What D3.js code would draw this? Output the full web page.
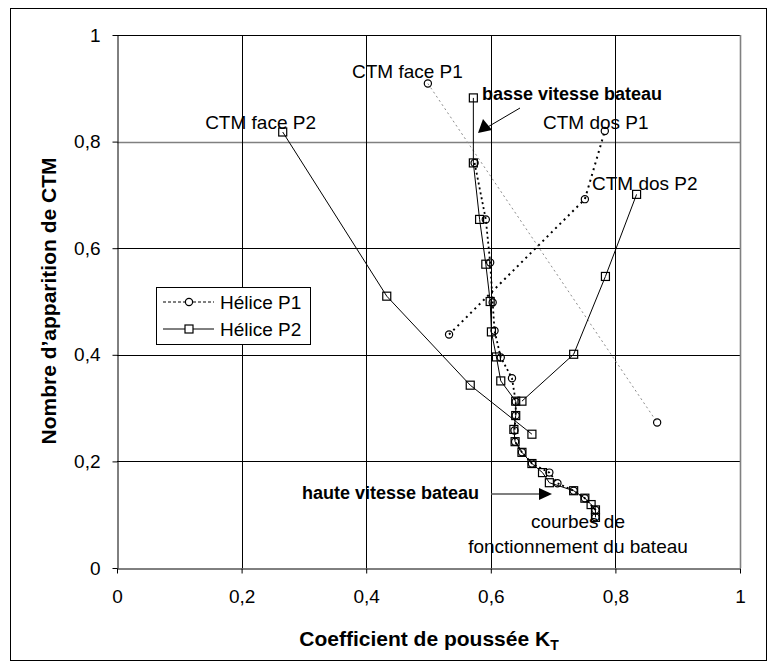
<!DOCTYPE html>
<html>
<head>
<meta charset="utf-8">
<script src="https://cdn.jsdelivr.net/npm/d3@7"></script>
<style>
  body { margin: 0; background: #fff; }
  svg { font-family: "Liberation Sans", Arial, sans-serif; }
</style>
</head>
<body>
<script>
// axis ticks
var xTicks = [0, 0.2, 0.4, 0.6, 0.8, 1];
var xTickLabels = ["0", "0,2", "0,4", "0,6", "0,8", "1"];
var yTicks = [0, 0.2, 0.4, 0.6, 0.8, 1];
var yTickLabels = ["0", "0,2", "0,4", "0,6", "0,8", "1"];

// Hélice P1 - operating curve
var p1Kt  = [0.574, 0.592, 0.599, 0.603, 0.606, 0.616, 0.634, 0.640, 0.640, 0.638, 0.639, 0.650, 0.666, 0.694, 0.707, 0.733, 0.751, 0.768, 0.768];
var p1Ctm = [0.760, 0.654, 0.573, 0.498, 0.445, 0.395, 0.356, 0.312, 0.286, 0.258, 0.237, 0.217, 0.196, 0.179, 0.159, 0.145, 0.131, 0.109, 0.095];
// Hélice P1 - CTM face / dos
var p1FaceKt  = [0.499, 0.867];
var p1FaceCtm = [0.909, 0.273];
var p1DosKt  = [0.533, 0.751, 0.783];
var p1DosCtm = [0.438, 0.692, 0.820];

// Hélice P2 - operating curve
var p2Kt  = [0.572, 0.572, 0.582, 0.592, 0.599, 0.601, 0.609, 0.616, 0.640, 0.640, 0.637, 0.639, 0.650, 0.666, 0.683, 0.694, 0.733, 0.751, 0.761, 0.768, 0.768];
var p2Ctm = [0.882, 0.760, 0.654, 0.570, 0.500, 0.443, 0.396, 0.351, 0.313, 0.286, 0.260, 0.237, 0.217, 0.196, 0.179, 0.160, 0.145, 0.131, 0.119, 0.109, 0.095];
// Hélice P2 - CTM face / dos
var p2FaceKt  = [0.266, 0.433, 0.567, 0.666];
var p2FaceCtm = [0.818, 0.510, 0.343, 0.251];
var p2DosKt  = [0.650, 0.733, 0.784, 0.834];
var p2DosCtm = [0.313, 0.401, 0.547, 0.701];

var legendNames = ["Hélice P1", "Hélice P2"];

function pts(xs, ys) {
  return xs.map(function(d, i) { return [d, ys[i]]; });
}

var svg = d3.select("body")
  .append("svg")
  .attr("width", 770)
  .attr("height", 669);

svg.append("rect")
  .attr("x", 10.5).attr("y", 8.5)
  .attr("width", 756).attr("height", 652)
  .attr("fill", "#fff")
  .attr("stroke", "#000");

var x = d3.scaleLinear().domain([0, 1]).range([117, 740]);
var y = d3.scaleLinear().domain([0, 1]).range([568, 35]);

// gridlines
svg.append("g")
  .selectAll("line")
  .data(yTicks.slice(1))
  .enter()
  .append("line")
  .attr("x1", x(0)).attr("x2", x(1))
  .attr("y1", function(d) { return Math.round(y(d)) + 0.5; })
  .attr("y2", function(d) { return Math.round(y(d)) + 0.5; })
  .attr("stroke", function(d) { return d === 0.8 ? "#808080" : "#000"; })
  .attr("stroke-width", function(d) { return d === 0.8 ? 1.6 : 1; });

svg.append("g")
  .selectAll("line")
  .data(xTicks.slice(1))
  .enter()
  .append("line")
  .attr("y1", y(0)).attr("y2", y(1))
  .attr("x1", function(d) { return Math.round(x(d)) + 0.5; })
  .attr("x2", function(d) { return Math.round(x(d)) + 0.5; })
  .attr("stroke", function(d) { return d === 1 ? "#808080" : "#000"; })
  .attr("stroke-width", function(d) { return d === 1 ? 1.6 : 1; });

// axes
var xAxisCall = d3.axisBottom(x)
  .tickValues(xTicks)
  .tickFormat(function(d, i) { return xTickLabels[i]; })
  .tickSize(5)
  .tickSizeOuter(0)
  .tickPadding(16);

svg.append("g")
  .attr("class", "x axis")
  .attr("transform", "translate(0," + (Math.round(y(0)) + 0.5) + ")")
  .call(xAxisCall);

var yAxisCall = d3.axisLeft(y)
  .tickValues(yTicks)
  .tickFormat(function(d, i) { return yTickLabels[i]; })
  .tickSize(5)
  .tickSizeOuter(0)
  .tickPadding(12);

svg.append("g")
  .attr("class", "y axis")
  .attr("transform", "translate(" + (Math.round(x(0)) + 0.5) + ",0)")
  .call(yAxisCall);

svg.selectAll(".axis text")
  .attr("font-size", "19px")
  .attr("font-family", "Liberation Sans, Arial, sans-serif")
  .attr("fill", "#000");
svg.selectAll(".axis path, .axis line").attr("stroke", "#000");

// axis titles
var xTitle = svg.append("text")
  .attr("x", 429)
  .attr("y", 646)
  .attr("font-size", "21px")
  .attr("font-weight", "bold")
  .attr("text-anchor", "middle")
  .text("Coefficient de poussée K");
xTitle.append("tspan")
  .attr("font-size", "14px")
  .attr("dy", "4")
  .text("T");

svg.append("text")
  .attr("transform", "translate(56," + 301 + ") rotate(-90)")
  .attr("font-size", "21px")
  .attr("font-weight", "bold")
  .attr("text-anchor", "middle")
  .text("Nombre d\u2019apparition de CTM");

var line = d3.line()
  .x(function(d) { return x(d[0]); })
  .y(function(d) { return y(d[1]); });

// lines
svg.append("path").datum(pts(p1FaceKt, p1FaceCtm))
  .attr("d", line).attr("fill", "none")
  .attr("stroke", "#8c8c8c").attr("stroke-width", 1)
  .attr("stroke-dasharray", "2,3");
svg.append("path").datum(pts(p1DosKt, p1DosCtm))
  .attr("d", line).attr("fill", "none")
  .attr("stroke", "#000").attr("stroke-width", 2)
  .attr("stroke-dasharray", "2,4");
svg.append("path").datum(pts(p1Kt, p1Ctm))
  .attr("d", line).attr("fill", "none")
  .attr("stroke", "#000").attr("stroke-width", 1.8)
  .attr("stroke-dasharray", "2,3");

[pts(p2Kt, p2Ctm), pts(p2FaceKt, p2FaceCtm), pts(p2DosKt, p2DosCtm)].forEach(function(s) {
  svg.append("path").datum(s)
    .attr("d", line).attr("fill", "none")
    .attr("stroke", "#000").attr("stroke-width", 1);
});

// markers
var p1All = pts(p1Kt, p1Ctm).concat(pts(p1FaceKt, p1FaceCtm), pts(p1DosKt, p1DosCtm));
var p2All = pts(p2Kt, p2Ctm).concat(pts(p2FaceKt, p2FaceCtm), pts(p2DosKt, p2DosCtm));

svg.append("g").selectAll("rect")
  .data(p2All)
  .enter()
  .append("rect")
  .attr("x", function(d) { return x(d[0]) - 4; })
  .attr("y", function(d) { return y(d[1]) - 4; })
  .attr("width", 8).attr("height", 8)
  .attr("fill", "none").attr("stroke", "#000").attr("stroke-width", 1.2);

svg.append("g").selectAll("circle")
  .data(p1All)
  .enter()
  .append("circle")
  .attr("cx", function(d) { return x(d[0]); })
  .attr("cy", function(d) { return y(d[1]); })
  .attr("r", 3.6)
  .attr("fill", "none").attr("stroke", "#000").attr("stroke-width", 1.2);

// annotations
function label(tx, ty, txt, anchor, bold, size) {
  svg.append("text")
    .attr("x", tx).attr("y", ty)
    .attr("font-size", size + "px")
    .attr("font-weight", bold ? "bold" : "normal")
    .attr("text-anchor", anchor)
    .text(txt);
}
label(352, 78, "CTM face P1", "start", false, 19);
label(316, 129, "CTM face P2", "end", false, 19);
label(543, 129, "CTM dos P1", "start", false, 19);
label(592, 190, "CTM dos P2", "start", false, 19);
label(482, 100, "basse vitesse bateau", "start", true, 18);
label(479, 499, "haute vitesse bateau", "end", true, 18);
label(578, 528, "courbes de", "middle", false, 19);
label(578, 553, "fonctionnement du bateau", "middle", false, 19);

// arrows
svg.append("line")
  .attr("x1", 520).attr("y1", 108).attr("x2", 486).attr("y2", 128)
  .attr("stroke", "#000").attr("stroke-width", 1);
svg.append("path")
  .attr("d", "M478,133 L483,119 L492,130 Z")
  .attr("fill", "#000");

svg.append("line")
  .attr("x1", 491).attr("y1", 494).attr("x2", 541).attr("y2", 494)
  .attr("stroke", "#555").attr("stroke-width", 1.5);
svg.append("path")
  .attr("d", "M552,494 L539,488 L539,500 Z")
  .attr("fill", "#000");

// legend
var leg = svg.append("g");
leg.append("rect")
  .attr("x", 156.5).attr("y", 287.5)
  .attr("width", 154).attr("height", 57)
  .attr("fill", "#fff").attr("stroke", "#000");

legendNames.forEach(function(name, i) {
  var ly = 302 + i * 27;
  leg.append("line")
    .attr("x1", 163).attr("x2", 214).attr("y1", ly).attr("y2", ly)
    .attr("stroke", "#000").attr("stroke-width", 1)
    .attr("stroke-dasharray", i === 0 ? "3,2" : null);
  if (i === 0) {
    leg.append("circle").attr("cx", 189).attr("cy", ly).attr("r", 3.6)
      .attr("fill", "#fff").attr("stroke", "#000").attr("stroke-width", 1.2);
  } else {
    leg.append("rect").attr("x", 185).attr("y", ly - 4).attr("width", 8).attr("height", 8)
      .attr("fill", "#fff").attr("stroke", "#000").attr("stroke-width", 1.2);
  }
  leg.append("text")
    .attr("x", 220).attr("y", ly + 7)
    .attr("font-size", "19px")
    .text(name);
});
</script>
</body>
</html>
